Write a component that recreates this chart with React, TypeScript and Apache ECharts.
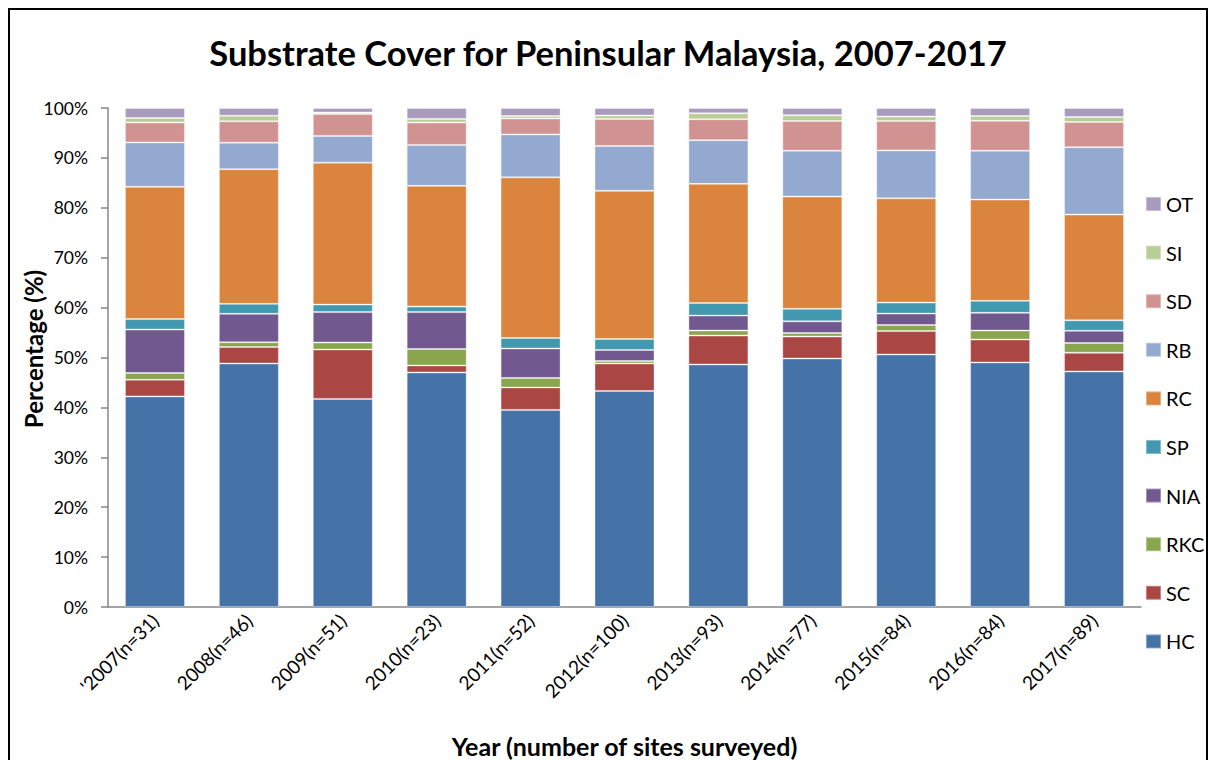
import React, { useEffect, useRef } from "react";
import * as echarts from "echarts";

const categories = [
  "'2007(n=31)", "2008(n=46)", "2009(n=51)", "2010(n=23)", "2011(n=52)", "2012(n=100)",
  "2013(n=93)", "2014(n=77)", "2015(n=84)", "2016(n=84)", "2017(n=89)",
];

const HC = [42.2, 48.8, 41.7, 47.0, 39.5, 43.3, 48.6, 49.8, 50.6, 49.0, 47.2];
const SC = [3.35, 3.3, 9.9, 1.4, 4.5, 5.5, 5.8, 4.4, 4.7, 4.6, 3.75];
const RKC = [1.35, 0.95, 1.4, 3.3, 1.9, 0.5, 1.0, 0.7, 1.2, 1.8, 1.95];
const NIA = [8.7, 5.7, 6.1, 7.4, 5.9, 2.2, 3.0, 2.35, 2.3, 3.55, 2.45];
const SP = [2.1, 2.0, 1.5, 1.1, 2.1, 2.2, 2.5, 2.5, 2.2, 2.4, 2.1];
const RC = [26.5, 27.0, 28.45, 24.2, 32.2, 29.7, 23.9, 22.5, 20.9, 20.3, 21.2];
const RB = [8.9, 5.3, 5.35, 8.2, 8.6, 9.0, 8.75, 9.2, 9.6, 9.8, 13.5];
const SD = [4.0, 4.3, 4.4, 4.5, 3.2, 5.4, 4.2, 5.95, 5.9, 6.0, 5.05];
const SI = [0.9, 1.1, 0.3, 0.7, 0.5, 0.7, 1.2, 1.15, 0.9, 0.95, 1.0];
const OT = [2.0, 1.55, 0.9, 2.2, 1.6, 1.5, 1.05, 1.45, 1.7, 1.6, 1.8];

const seriesDefs = [
  { name: "HC", data: HC, color: "#4572A7" },
  { name: "SC", data: SC, color: "#AA4643" },
  { name: "RKC", data: RKC, color: "#89A54E" },
  { name: "NIA", data: NIA, color: "#71588F" },
  { name: "SP", data: SP, color: "#4198AF" },
  { name: "RC", data: RC, color: "#DB843D" },
  { name: "RB", data: RB, color: "#93A9CF" },
  { name: "SD", data: SD, color: "#D19392" },
  { name: "SI", data: SI, color: "#B9CD96" },
  { name: "OT", data: OT, color: "#A99BBD" },
];

const legendOrder = ["OT", "SI", "SD", "RB", "RC", "SP", "NIA", "RKC", "SC", "HC"];

const FONT = "Lato, 'Open Sans', sans-serif";

export default function App() {
  const ref = useRef<HTMLDivElement>(null);
  useEffect(() => {
    if (!ref.current) return;
    const chart = echarts.init(ref.current, null, { renderer: "svg" });
    chart.setOption({
      animation: false,
      backgroundColor: "#ffffff",
      title: {
        text: "Substrate Cover for Peninsular Malaysia, 2007-2017",
        left: "center",
        top: 20,
        textStyle: { fontFamily: FONT, fontSize: 34.5, fontWeight: "bold", color: "#000" },
      },
      graphic: [
        {
          type: "text",
          x: 23,
          y: 339,
          rotation: Math.PI / 2,
          style: {
            text: "Percentage (%)",
            fontFamily: FONT,
            fontSize: 24,
            fontWeight: "bold",
            fill: "#000",
            align: "center",
            verticalAlign: "middle",
          },
        },
      ],
      legend: {
        orient: "vertical",
        left: 1130,
        top: 179,
        itemWidth: 15,
        itemHeight: 14,
        itemGap: 28.6,
        icon: "rect",
        data: legendOrder,
        textStyle: { fontFamily: FONT, fontSize: 20, color: "#000" },
      },
      grid: { left: 98, top: 98, width: 1033, height: 499, outerBoundsMode: "none", containLabel: false },
      xAxis: {
        type: "category",
        data: categories,
        name: "Year (number of sites surveyed)",
        nameLocation: "middle",
        nameGap: 126,
        nameTextStyle: { fontFamily: FONT, fontSize: 25, fontWeight: "bold", color: "#000" },
        axisLine: { lineStyle: { color: "#868686", width: 1.5 } },
        axisTick: { show: false },
        axisLabel: {
          rotate: 45,
          fontFamily: FONT,
          fontSize: 19,
          color: "#000",
          margin: 10,
          interval: 0,
        },
      },
      yAxis: {
        type: "value",
        min: 0,
        max: 100,
        interval: 10,
        axisLine: { show: true, lineStyle: { color: "#868686", width: 1.5 } },
        axisTick: { show: true, length: 7, lineStyle: { color: "#868686", width: 1.5 } },
        splitLine: { show: false },
        axisLabel: {
          formatter: "{value}%",
          fontFamily: FONT,
          fontSize: 17.5,
          color: "#000",
          margin: 20,
        },
      },
      series: seriesDefs.map((s) => ({
        name: s.name,
        type: "bar",
        stack: "total",
        barWidth: 60,
        data: s.data,
        itemStyle: {
          color: s.color,
          borderColor: "rgba(255,255,255,0.35)",
          borderWidth: 1,
        },
      })),
    });
    return () => chart.dispose();
  }, []);
  return (
    <div
      style={{
        position: "fixed",
        left: 8,
        top: 8,
        width: 1196,
        height: 800,
        border: "2px solid #000",
        background: "#fff",
      }}
    >
      <div ref={ref} style={{ width: 1196, height: 790 }} />
    </div>
  );
}
